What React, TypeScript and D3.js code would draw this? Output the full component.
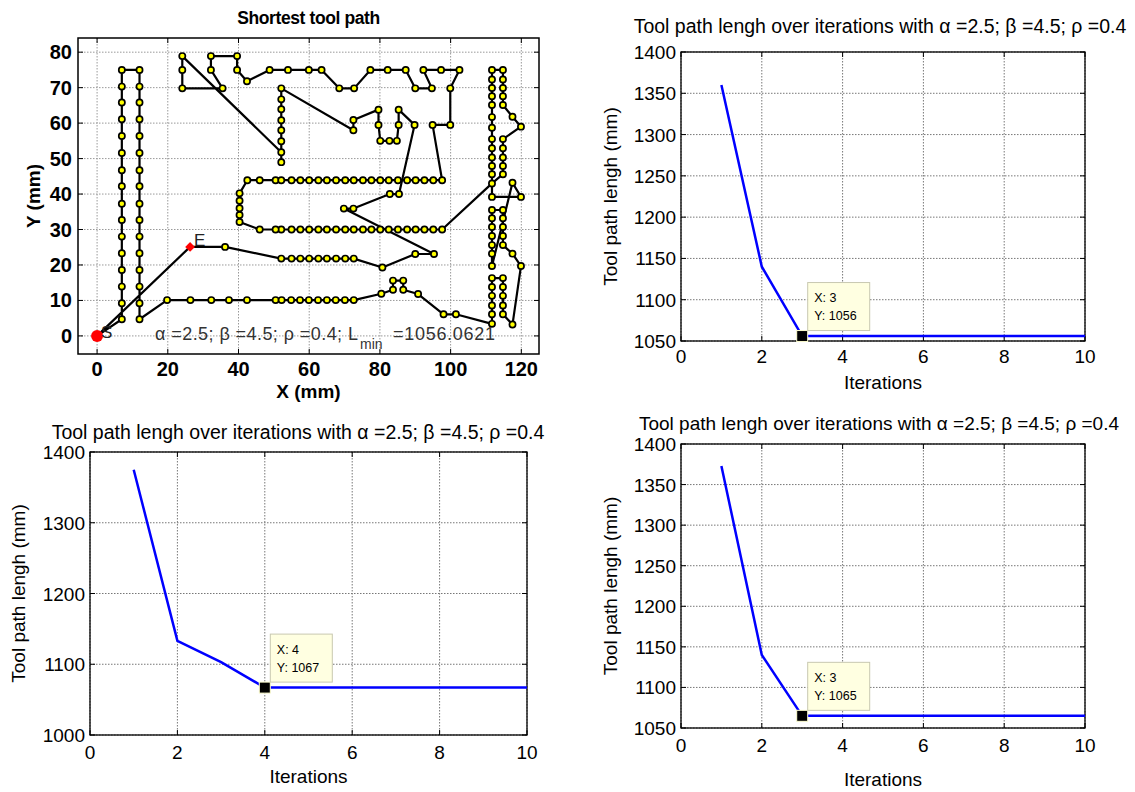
import React from "react";
import * as d3 from "d3";

type Pt = [number, number];

// ---------- tool path (mm), in visiting order ----------
const startPoint: Pt = [0, 0];
const endPoint: Pt = [26.3, 25.1];

const leftColumns: Pt[] = [
  [7.0, 4.7], [7.0, 9.2], [7.0, 13.9], [7.0, 18.6], [7.0, 23.3], [7.0, 28.0], [7.0, 32.7], [7.0, 37.3],
  [7.0, 42.2], [7.0, 46.7], [7.0, 51.6], [7.0, 56.4], [7.0, 61.1], [7.0, 65.8], [7.0, 70.3], [7.0, 75.0],
  [12.0, 75.0], [12.0, 70.3], [12.0, 65.8], [12.0, 61.1], [12.0, 56.4], [12.0, 51.6], [12.0, 46.7], [12.0, 42.2],
  [12.0, 37.3], [12.0, 32.7], [12.0, 28.0], [12.0, 23.3], [12.0, 18.6], [12.0, 13.9], [12.0, 9.2], [12.0, 4.7],
];

const bottomRow: Pt[] = [
  [19.8, 10.1], [26.4, 10.1], [32.3, 10.1], [37.3, 10.1], [42.4, 10.1], [50.5, 10.1], [52.2, 10.1], [54.9, 10.1],
  [57.4, 10.1], [59.9, 10.1], [62.5, 10.1], [65.0, 10.1], [67.5, 10.1], [70.1, 10.1], [72.6, 10.1],
  [80.4, 11.9], [83.7, 13.0], [83.7, 15.6], [86.6, 15.6], [86.6, 13.0], [90.8, 11.8], [98.0, 6.1], [101.5, 6.1],
];

const lowerRightBlock: Pt[] = [
  [111.7, 3.4], [111.7, 6.1], [111.7, 8.6], [111.7, 11.3], [111.7, 13.8], [111.7, 16.3],
  [114.8, 16.3], [114.8, 13.8], [114.8, 11.3], [114.8, 8.6], [114.8, 6.1],
  [117.5, 3.2], [119.9, 19.7], [117.5, 23.2],
  [114.8, 25.6], [114.8, 28.2], [114.8, 30.7], [114.8, 33.2], [114.8, 35.5],
  [111.7, 35.5], [111.7, 33.2], [111.7, 30.7], [111.7, 28.2], [111.7, 25.6], [111.7, 23.2], [111.7, 19.7],
  [117.5, 43.2], [119.9, 39.2], [111.7, 39.2],
];

const upperRightBlock: Pt[] = [
  [111.7, 45.6], [111.7, 47.9], [111.7, 50.3], [111.7, 52.9], [111.7, 55.5], [111.7, 58.7],
  [111.7, 61.7], [111.7, 65.1], [111.7, 67.6], [111.7, 69.9], [111.7, 72.3], [111.7, 75.0],
  [114.8, 75.0], [114.8, 72.3], [114.8, 69.9], [114.8, 67.6], [114.8, 65.1],
  [117.5, 61.8], [119.9, 59.0],
  [114.8, 55.5], [114.8, 52.9], [114.8, 50.3], [114.8, 47.9], [114.8, 45.6],
  [111.7, 43.0],
];

const row30: Pt[] = [
  [97.6, 30.0], [95.1, 30.0], [92.6, 30.0], [90.1, 30.0], [87.7, 30.0], [85.1, 30.0], [82.5, 30.0],
  [80.1, 30.0], [77.6, 30.0], [75.2, 30.0], [72.6, 30.0], [70.2, 30.0], [67.6, 30.0], [65.0, 30.0],
  [62.6, 30.0], [60.0, 30.0], [57.5, 30.0], [55.0, 30.0], [52.1, 30.0], [50.5, 30.0], [46.0, 30.0],
];

const leftLoop: Pt[] = [[40.3, 32.1], [40.3, 34.1], [40.3, 36.0], [40.3, 38.1], [40.3, 40.2]];

const row44: Pt[] = [
  [42.5, 43.9], [46.0, 43.9], [50.5, 43.9], [52.1, 43.9], [55.0, 43.9], [57.5, 43.9], [60.0, 43.9],
  [62.6, 43.9], [65.0, 43.9], [67.6, 43.9], [70.2, 43.9], [72.6, 43.9], [75.2, 43.9], [77.6, 43.9],
  [80.1, 43.9], [82.5, 43.9], [85.1, 43.9], [87.7, 43.9], [90.1, 43.9], [92.6, 43.9], [95.1, 43.9], [97.6, 43.9],
];

const topRows: Pt[] = [
  [94.9, 59.5], [99.9, 59.5], [99.9, 69.8], [102.5, 75.0], [97.3, 75.0], [92.3, 75.0], [94.7, 69.8],
  [90.0, 69.8], [87.3, 75.0], [82.2, 75.0], [77.3, 75.0], [72.7, 69.8], [68.5, 69.8], [63.5, 75.0],
  [59.9, 75.0], [54.0, 75.0], [48.8, 75.0], [42.4, 71.8], [39.6, 75.0], [39.6, 78.9], [32.2, 78.9],
  [32.2, 75.0], [35.5, 69.8], [24.1, 69.8], [24.1, 75.0], [24.1, 78.9],
];

const centreColumn: Pt[] = [
  [52.1, 51.8], [52.1, 49.0], [52.1, 54.9], [52.1, 58.0], [52.1, 60.8], [52.1, 63.9], [52.1, 66.7], [52.1, 69.8],
];

const centreLoops: Pt[] = [
  [72.5, 58.0], [72.5, 60.9], [79.6, 63.8], [79.6, 59.5], [80.1, 55.0], [82.7, 55.0], [84.8, 55.0],
  [85.3, 59.5], [85.3, 63.8], [89.8, 59.5], [85.4, 40.0], [82.8, 40.0], [72.5, 35.9], [69.8, 35.9],
  [95.3, 23.1], [90.0, 23.1], [80.7, 19.3],
];

const row22: Pt[] = [
  [72.6, 21.8], [70.2, 21.8], [67.6, 21.8], [65.0, 21.8], [62.6, 21.8], [60.0, 21.8], [57.5, 21.8],
  [55.0, 21.8], [52.1, 21.8], [36.2, 25.1],
];

const visitedPoints: Pt[] = [
  ...leftColumns, ...bottomRow, ...lowerRightBlock, ...upperRightBlock, ...row30, ...leftLoop,
  ...row44, ...topRows, ...centreColumn, ...centreLoops, ...row22,
];
const toolPath: Pt[] = [startPoint, ...visitedPoints, endPoint, startPoint];

const pathXTicks = [0, 20, 40, 60, 80, 100, 120];
const pathYTicks = [0, 10, 20, 30, 40, 50, 60, 70, 80];

// ---------- convergence runs ----------
const iterations = [1, 2, 3, 4, 5, 6, 7, 8, 9, 10];
const run1 = [1360, 1140, 1056, 1056, 1056, 1056, 1056, 1056, 1056, 1056];
const run2 = [1375, 1133, 1103, 1067, 1067, 1067, 1067, 1067, 1067, 1067];
const run3 = [1373, 1140, 1065, 1065, 1065, 1065, 1065, 1065, 1065, 1065];
const iterTicks = [0, 2, 4, 6, 8, 10];
const ticks50 = [1050, 1100, 1150, 1200, 1250, 1300, 1350, 1400];
const ticks100 = [1000, 1100, 1200, 1300, 1400];

const runTitle = "Tool path lengh over iterations with \u03b1 =2.5; \u03b2 =4.5; \u03c1 =0.4";
const font = "'Liberation Sans', Arial, Helvetica, sans-serif";

function ToolPathPanel() {
  const fL = 78, fR = 539, fT = 38, fB = 354;
  const x = d3.scaleLinear().domain([-5.4, 125]).range([fL, fR]);
  const y = d3.scaleLinear().domain([-5.1, 84]).range([fB, fT]);
  const line = d3.line<Pt>().x((d) => x(d[0])).y((d) => y(d[1]));
  const tk = 5;
  return (
    <g fontFamily={font}>
      {pathXTicks.map((t) => (
        <line key={"gx" + t} x1={x(t)} x2={x(t)} y1={fT} y2={fB} stroke="#999" strokeDasharray="1.5,1.5" />
      ))}
      {pathYTicks.map((t) => (
        <line key={"gy" + t} x1={fL} x2={fR} y1={y(t)} y2={y(t)} stroke="#999" strokeDasharray="1.5,1.5" />
      ))}
      <rect x={fL} y={fT} width={fR - fL} height={fB - fT} fill="none" stroke="#000" strokeWidth={1.5} />
      {pathXTicks.map((t) => (
        <g key={"tx" + t}>
          <line x1={x(t)} x2={x(t)} y1={fB} y2={fB - tk} stroke="#000" />
          <line x1={x(t)} x2={x(t)} y1={fT} y2={fT + tk} stroke="#000" />
          <text x={x(t)} y={fB + 22} textAnchor="middle" fontSize={20} fontWeight="bold">{t}</text>
        </g>
      ))}
      {pathYTicks.map((t) => (
        <g key={"ty" + t}>
          <line x1={fL} x2={fL + tk} y1={y(t)} y2={y(t)} stroke="#000" />
          <line x1={fR} x2={fR - tk} y1={y(t)} y2={y(t)} stroke="#000" />
          <text x={fL - 6} y={y(t) + 7} textAnchor="end" fontSize={20} fontWeight="bold">{t}</text>
        </g>
      ))}
      <text x={(fL + fR) / 2} y={24} textAnchor="middle" fontSize={17.5} fontWeight="bold" letterSpacing={-0.4}>
        Shortest tool path
      </text>
      <text x={(fL + fR) / 2} y={398} textAnchor="middle" fontSize={19} fontWeight="bold">X (mm)</text>
      <text transform={`translate(40,${(fT + fB) / 2}) rotate(-90)`} textAnchor="middle" fontSize={19} fontWeight="bold">
        Y (mm)
      </text>

      <path d={line(toolPath) || ""} fill="none" stroke="#000" strokeWidth={2.2} strokeLinejoin="round" />
      {visitedPoints.map((p, i) => (
        <circle key={i} cx={x(p[0])} cy={y(p[1])} r={3.1} fill="#ffff00" stroke="#000" strokeWidth={1.7} />
      ))}
      <circle cx={x(startPoint[0])} cy={y(startPoint[1])} r={6} fill="#ff0000" />
      <path
        d={d3.symbol(d3.symbolDiamond2, 60)() || ""}
        transform={`translate(${x(endPoint[0])},${y(endPoint[1])})`}
        fill="#ff0000"
      />
      <text x={x(startPoint[0]) + 4} y={y(startPoint[1]) + 2} fontSize={17} fill="#222">S</text>
      <text x={x(endPoint[0]) + 4} y={y(endPoint[1]) - 1} fontSize={17} fill="#222">E</text>

      <g fill="#333" fontSize={18}>
        <text x={155} y={340} textLength={203} lengthAdjust="spacing">{"\u03b1 =2.5; \u03b2 =4.5; \u03c1 =0.4; L"}</text>
        <text x={360} y={349} fontSize={14}>min</text>
        <text x={393} y={340} textLength={102}>=1056.0621</text>
      </g>
    </g>
  );
}

type RunProps = {
  fL: number; fR: number; fT: number; fB: number;
  yDomain: [number, number]; yTicks: number[]; values: number[]; tip: number;
  titleX: number; titleY: number; titleSize: number; tickY: number; xLabelY: number; yLabelX: number;
};

function RunPanel(p: RunProps) {
  const x = d3.scaleLinear().domain([0, 10]).range([p.fL, p.fR]);
  const y = d3.scaleLinear().domain(p.yDomain).range([p.fB, p.fT]);
  const data = iterations.map((it, i) => [it, p.values[i]] as Pt);
  const line = d3.line<Pt>().x((d) => x(d[0])).y((d) => y(d[1]));
  const tk = 5;
  const mx = x(iterations[p.tip]);
  const my = y(p.values[p.tip]);
  return (
    <g fontFamily={font}>
      {iterTicks.map((t) => (
        <line key={"gx" + t} x1={x(t)} x2={x(t)} y1={p.fT} y2={p.fB} stroke="#777" strokeDasharray="1.5,1.5" />
      ))}
      {p.yTicks.map((t) => (
        <line key={"gy" + t} x1={p.fL} x2={p.fR} y1={y(t)} y2={y(t)} stroke="#777" strokeDasharray="1.5,1.5" />
      ))}
      <rect x={p.fL} y={p.fT} width={p.fR - p.fL} height={p.fB - p.fT} fill="none" stroke="#000" strokeWidth={1.3} />
      {iterTicks.map((t) => (
        <g key={"tx" + t}>
          <line x1={x(t)} x2={x(t)} y1={p.fB} y2={p.fB - tk} stroke="#000" />
          <line x1={x(t)} x2={x(t)} y1={p.fT} y2={p.fT + tk} stroke="#000" />
          <text x={x(t)} y={p.tickY} textAnchor="middle" fontSize={19}>{t}</text>
        </g>
      ))}
      {p.yTicks.map((t) => (
        <g key={"ty" + t}>
          <line x1={p.fL} x2={p.fL + tk} y1={y(t)} y2={y(t)} stroke="#000" />
          <line x1={p.fR} x2={p.fR - tk} y1={y(t)} y2={y(t)} stroke="#000" />
          <text x={p.fL - 5} y={y(t) + 7} textAnchor="end" fontSize={19}>{t}</text>
        </g>
      ))}
      <text x={p.titleX} y={p.titleY} textAnchor="middle" fontSize={p.titleSize}>{runTitle}</text>
      <text x={(p.fL + p.fR) / 2} y={p.xLabelY} textAnchor="middle" fontSize={19}>Iterations</text>
      <text transform={`translate(${p.yLabelX},${(p.fT + p.fB) / 2}) rotate(-90)`} textAnchor="middle" fontSize={19}>
        Tool path lengh (mm)
      </text>
      <path d={line(data) || ""} fill="none" stroke="#0000ff" strokeWidth={2.5} />
      <rect x={mx - 5.5} y={my - 5.5} width={11} height={11} fill="#000" stroke="#ffffd0" strokeWidth={1} />
      <rect x={mx + 5.5} y={my - 53.5} width={62} height={48} fill="#ffffe1" stroke="#c8c8b0" strokeWidth={1} />
      <text x={mx + 12} y={my - 34} fontSize={12.5}>{"X: " + iterations[p.tip]}</text>
      <text x={mx + 12} y={my - 16} fontSize={12.5}>{"Y: " + p.values[p.tip]}</text>
    </g>
  );
}

export default function App() {
  return (
    <svg width={1135} height={792} style={{ position: "absolute", left: 0, top: 0, background: "#fff" }}>
      <rect width={1135} height={792} fill="#fff" />
      <ToolPathPanel />
      <RunPanel fL={681} fR={1085} fT={52} fB={341} yDomain={[1050, 1400]} yTicks={ticks50} values={run1} tip={2}
        titleX={880} titleY={33} titleSize={19.5} tickY={363} xLabelY={389} yLabelX={617} />
      <RunPanel fL={90} fR={527} fT={452} fB={735} yDomain={[1000, 1400]} yTicks={ticks100} values={run2} tip={3}
        titleX={298} titleY={439} titleSize={19.5} tickY={759} xLabelY={783} yLabelX={25} />
      <RunPanel fL={681} fR={1085} fT={444} fB={728} yDomain={[1050, 1400]} yTicks={ticks50} values={run3} tip={2}
        titleX={879} titleY={430} titleSize={19} tickY={752} xLabelY={786} yLabelX={617} />
    </svg>
  );
}
